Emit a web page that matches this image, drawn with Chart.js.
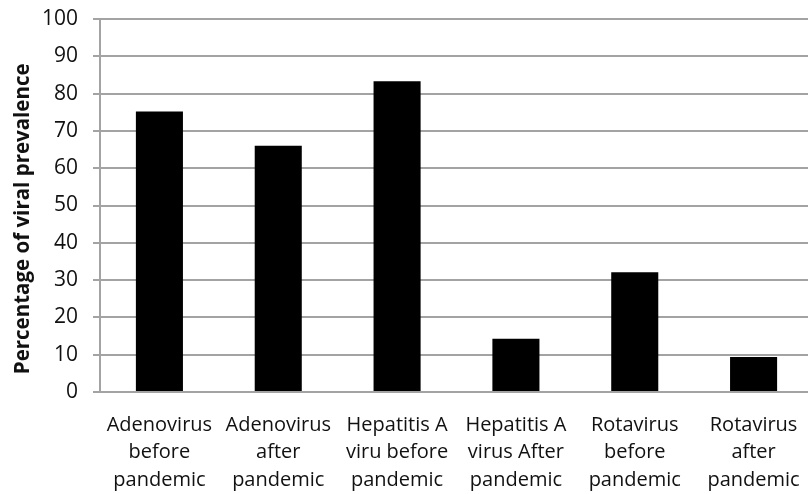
<!DOCTYPE html>
<html>
<head>
<meta charset="utf-8">
<script src="https://cdn.jsdelivr.net/npm/chart.js@4"></script>
<style>
  html, body { margin: 0; padding: 0; background: #fff; overflow: hidden; }
  #wrap { width: 813px; height: 494px; }
</style>
</head>
<body>
<div id="wrap"><canvas id="chart"></canvas></div>
<script>
// Viral prevalence (%) before and after the pandemic
const categories = [
  ['Adenovirus', 'before', 'pandemic'],
  ['Adenovirus', 'after', 'pandemic'],
  ['Hepatitis A', 'viru before', 'pandemic'],
  ['Hepatitis A', 'virus After', 'pandemic'],
  ['Rotavirus', 'before', 'pandemic'],
  ['Rotavirus', 'after', 'pandemic']
];
const prevalence = [75.2, 66.0, 83.3, 14.3, 32.1, 9.4];
const yTicks = [0, 10, 20, 30, 40, 50, 60, 70, 80, 90, 100];
// trailing spaces nudge the rotated title a little below the axis centre
const yTitle = 'Percentage of viral prevalence     ';

const gridColor = '#a3a3a3';
const textColor = '#111';

new Chart(document.getElementById('chart'), {
  type: 'bar',
  data: {
    labels: categories,
    datasets: [{
      data: prevalence,
      backgroundColor: '#000',
      borderWidth: 0,
      categoryPercentage: 1,
      barPercentage: 0.396
    }]
  },
  options: {
    responsive: true,
    maintainAspectRatio: false,
    animation: false,
    layout: { padding: { top: 19, right: 0, bottom: 0, left: 0 } },
    plugins: { legend: { display: false }, tooltip: { enabled: false } },
    scales: {
      x: {
        grid: { display: false, drawTicks: false },
        border: { display: false },
        ticks: {
          color: textColor,
          padding: 19,
          maxRotation: 0,
          autoSkip: false,
          font: { family: 'Open Sans', size: 20, lineHeight: 1.39 }
        },
        afterFit: s => { s.height = 102; s.paddingLeft = 0; s.paddingRight = 0; }
      },
      y: {
        min: 0,
        max: 100,
        afterBuildTicks: s => { s.ticks = yTicks.map(v => ({ value: v })); },
        grid: { color: gridColor, lineWidth: 2, tickLength: 7, drawTicks: true },
        border: { display: true, color: gridColor, width: 2 },
        ticks: {
          color: textColor,
          padding: 15,
          font: { family: 'Open Sans', size: 21 }
        },
        title: {
          display: true,
          text: yTitle,
          color: textColor,
          padding: { top: 11, bottom: 0 },
          font: { family: 'Open Sans', size: 20.5, weight: 'bold' }
        },
        afterFit: s => { s.width = 100; s.paddingTop = 0; s.paddingBottom = 0; }
      }
    }
  }
});
</script>
</body>
</html>
